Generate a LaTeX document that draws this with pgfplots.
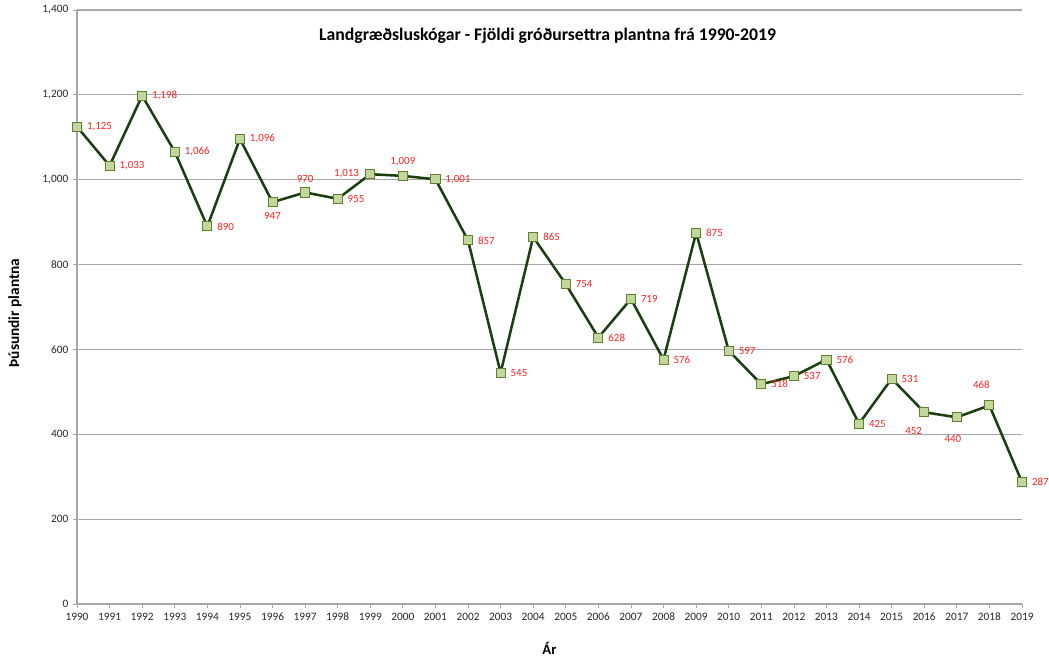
\documentclass[border=0pt]{standalone}
\usepackage{pgfplots}
\pgfplotsset{compat=1.18}
\usepackage{pgfplotstable}
\usepackage{fontspec}
\setmainfont{Carlito}
\definecolor{linegreen}{HTML}{1C3F12}
\definecolor{markfill}{HTML}{C3D69B}
\definecolor{markedge}{HTML}{5F7F30}
\definecolor{labred}{HTML}{FF2020}
\definecolor{gridgray}{HTML}{A6A6A6}
\pgfplotstableread{
year val
1990 1125
1991 1033
1992 1198
1993 1066
1994 890
1995 1096
1996 947
1997 970
1998 955
1999 1013
2000 1009
2001 1001
2002 857
2003 545
2004 865
2005 754
2006 628
2007 719
2008 576
2009 875
2010 597
2011 518
2012 537
2013 576
2014 425
2015 531
2016 452
2017 440
2018 468
2019 287
}\data
\begin{document}
\begin{tikzpicture}
\useasboundingbox (-57.75pt,-41.25pt) rectangle (729pt,453pt);
\begin{axis}[
  scale only axis,
  width=708.75pt, height=445.5pt,
  xmin=1990, xmax=2019, ymin=0, ymax=1400,
  xtick={1990,1991,...,2019},
  ytick={0,200,...,1400},
  axis lines=left,
  axis line style={gridgray, line width=0.8pt, -},
  ymajorgrids, grid style={gridgray, line width=0.8pt},
  tick align=outside, major tick length=3pt,
  tick style={gridgray, line width=0.6pt},
  /pgf/number format/assume math mode=true,
  /pgf/number format/1000 sep={,},
  xticklabel style={/pgf/number format/1000 sep=, font=\fontsize{8.5}{10}\selectfont, text=black!85},
  yticklabel style={font=\fontsize{8.5}{10}\selectfont, text=black!85},
  title={\textbf{Landgræðsluskógar - Fjöldi gróðursettra plantna frá 1990-2019}},
  title style={at={(axis description cs:0.498,0.943)}, anchor=center, font=\fontsize{13.3}{15}\selectfont},
  ylabel={\textbf{Þúsundir plantna}},
  ylabel style={at={(axis description cs:-0.0656,0.49)}, anchor=center, font=\fontsize{11.5}{13}\selectfont},
  xlabel={\textbf{Ár}},
  xlabel style={at={(axis description cs:0.5,-0.074)}, anchor=center, font=\fontsize{11}{13}\selectfont},
  clip=false,
  nodes near coords style={font=\fontsize{8.2}{9}\selectfont, text=labred, /pgf/number format/1000 sep={,}},
]
\addplot[linegreen, line width=1.9pt, mark=square*, mark size=3.4pt,
  mark options={fill=markfill, draw=markedge, line width=0.7pt}] table[x=year,y=val] {\data};
% right labels
\addplot[draw=none, mark=none, nodes near coords, nodes near coords align={anchor=west}, nodes near coords style={xshift=4pt}]
 coordinates {(1990,1125) (1991,1033) (1992,1198) (1993,1066) (1994,890) (1995,1096) (1998,955) (2001,1001) (2002,857) (2003,545) (2004,865) (2005,754) (2006,628) (2007,719) (2008,576) (2009,875) (2010,597) (2011,518) (2012,537) (2013,576) (2014,425) (2015,531) (2019,287)};
% below
\addplot[draw=none, mark=none, nodes near coords, nodes near coords align={anchor=north}, nodes near coords style={yshift=-4pt}]
 coordinates {(1996,947)};
\addplot[draw=none, mark=none, nodes near coords, nodes near coords align={anchor=north}, nodes near coords style={yshift=-10pt, xshift=-3pt}]
 coordinates {(2017,440)};
\addplot[draw=none, mark=none, nodes near coords, nodes near coords align={anchor=north}, nodes near coords style={yshift=-8pt, xshift=-8pt}]
 coordinates {(2016,452)};
% above
\addplot[draw=none, mark=none, nodes near coords, nodes near coords align={anchor=south}, nodes near coords style={yshift=4pt}]
 coordinates {(1997,970) (2000,1009)};
\addplot[draw=none, mark=none, nodes near coords, nodes near coords align={anchor=south}, nodes near coords style={yshift=9pt, xshift=-6pt}]
 coordinates {(2018,468)};
% left
\addplot[draw=none, mark=none, nodes near coords, nodes near coords align={anchor=east}, nodes near coords style={xshift=-5pt, yshift=0.5pt}]
 coordinates {(1999,1013)};
\end{axis}
\end{tikzpicture}
\end{document}
